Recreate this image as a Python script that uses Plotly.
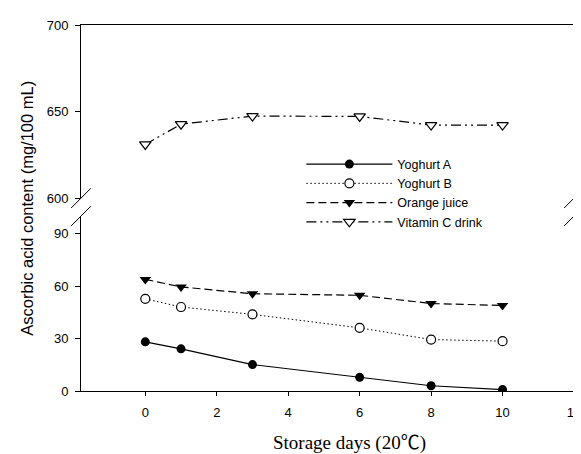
import plotly.graph_objects as go

days = [0, 1, 3, 6, 8, 10]
yoghurt_a = [28.1, 24.1, 15.1, 7.8, 3.0, 0.8]
yoghurt_b = [52.7, 48.0, 43.8, 36.1, 29.4, 28.5]
orange_juice = [63.8, 59.5, 55.6, 54.7, 50.0, 48.9]
vitamin_c = [631, 642.7, 647.4, 647.2, 642.2, 642.2]

x_ticks = [0, 2, 4, 6, 8, 10, 12]
low_ticks = [0, 30, 60, 90]
high_ticks = [600, 650, 700]

FONT = "Liberation Sans, Arial, sans-serif"

fig = go.Figure()
fig.add_trace(go.Scatter(x=days, y=yoghurt_a, name="Yoghurt A", mode="lines+markers",
                         line=dict(color="black", width=1.2),
                         marker=dict(symbol="circle", size=9, color="black"),
                         xaxis="x", yaxis="y"))
fig.add_trace(go.Scatter(x=days, y=yoghurt_b, name="Yoghurt B", mode="lines+markers",
                         line=dict(color="black", width=1, dash="1.5px,2.5px"),
                         marker=dict(symbol="circle", size=9, color="white",
                                     line=dict(color="black", width=1.2)),
                         xaxis="x", yaxis="y"))
fig.add_trace(go.Scatter(x=days, y=orange_juice, name="Orange juice", mode="lines+markers",
                         line=dict(color="black", width=1.2, dash="8px,4px"),
                         marker=dict(symbol="triangle-down", size=10, color="black"),
                         xaxis="x", yaxis="y"))
fig.add_trace(go.Scatter(x=days, y=vitamin_c, name="Vitamin C drink", mode="lines+markers",
                         line=dict(color="black", width=1.2, dash="10px,4px,2px,4px,2px,4px"),
                         marker=dict(symbol="triangle-down", size=10, color="white",
                                     line=dict(color="black", width=1.2)),
                         xaxis="x2", yaxis="y2"))

low_top = 0.478
high_bot = 0.527

axis_common = dict(showgrid=False, zeroline=False, linecolor="black", linewidth=1,
                   tickcolor="black", tickfont=dict(family=FONT, size=13, color="black"))

fig.update_layout(
    width=581, height=454,
    margin=dict(l=73, r=8, t=17, b=71),
    paper_bgcolor="white", plot_bgcolor="white",
    font=dict(family=FONT, color="black"),
    showlegend=True,
    legend=dict(x=0.447, y=0.66, xanchor="left", yanchor="top",
                bgcolor="rgba(0,0,0,0)", font=dict(family=FONT, size=12.5, color="black"),
                itemwidth=86),
    xaxis=dict(domain=[0, 1], range=[-1.8, 12], anchor="y", tickvals=x_ticks,
               showline=True, ticks="outside", ticklen=4, ticklabelstandoff=5,
               **axis_common),
    xaxis2=dict(domain=[0, 1], range=[-1.8, 12], anchor="y2", side="top", matches="x",
                showline=True, ticks="", showticklabels=False,
                showgrid=False, zeroline=False, linecolor="black", linewidth=1),
    yaxis=dict(domain=[0, low_top], range=[0, 100], anchor="x", tickvals=low_ticks,
               showline=True, mirror=True, ticks="outside", ticklen=5,
               ticklabelstandoff=4, **axis_common),
    yaxis2=dict(domain=[high_bot, 1], range=[600, 700], anchor="x2", tickvals=high_ticks,
                showline=True, mirror=True, ticks="outside", ticklen=5,
                ticklabelstandoff=4, **axis_common),
)

# axis break marks
dx, dy = 0.02, 0.027
for xc in (0, 1):
    for yc in (high_bot, low_top):
        fig.add_shape(type="line", xref="paper", yref="paper",
                      x0=xc - dx, y0=yc - dy, x1=xc + dx, y1=yc + dy,
                      line=dict(color="black", width=1))

fig.add_annotation(text="Ascorbic acid content (mg/100 mL)", xref="paper", yref="paper",
                   x=-0.11, y=0.50, textangle=-90, showarrow=False,
                   xanchor="center", yanchor="middle",
                   font=dict(family=FONT, size=16.5, color="black"))
fig.add_annotation(text="Storage days (20℃)", xref="paper", yref="paper",
                   x=0.544, y=-0.142, showarrow=False, xanchor="center", yanchor="middle",
                   font=dict(family="Liberation Serif, Noto Sans CJK KR, serif", size=19,
                             color="black"))

fig.write_html("out.html")
